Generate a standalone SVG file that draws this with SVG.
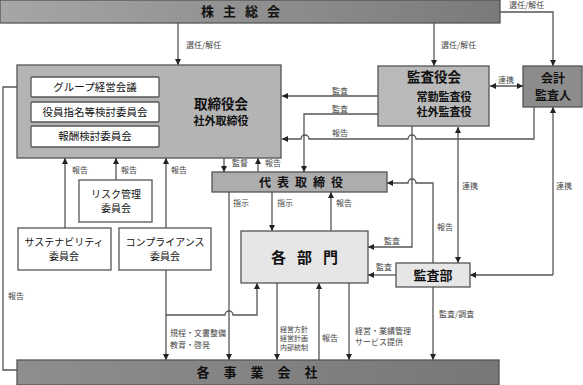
<svg xmlns="http://www.w3.org/2000/svg" width="583" height="385" viewBox="0 0 583 385">
<style>
text{font-family:"Noto Sans CJK JP","Noto Sans",sans-serif;}
.ln{fill:none;stroke:#555;stroke-width:1.3;}
.arr{marker-end:url(#ah);}
.lbl{font-size:8px;fill:#444;}
.sm{font-size:7px;}
.box{stroke:#555;stroke-width:1.3;}
.w{fill:#fff;}
.t11{font-size:10.5px;fill:#111;text-anchor:middle;}
.t10{font-size:10px;fill:#111;text-anchor:middle;}
.tb{font-weight:bold;fill:#111;text-anchor:middle;}
</style>
<defs>
<marker id="ah" viewBox="0 0 8 8" refX="8" refY="4" markerWidth="6" markerHeight="6" markerUnits="userSpaceOnUse" orient="auto-start-reverse">
<path d="M0,0 L8,4 L0,8 z" fill="#222"/>
</marker>
<linearGradient id="bar" x1="0" y1="0" x2="1" y2="0">
<stop offset="0" stop-color="#a6a6a6"/>
<stop offset="1" stop-color="#7a7a7a"/>
</linearGradient>
<linearGradient id="bar2" x1="0" y1="0" x2="1" y2="0">
<stop offset="0" stop-color="#8e8e8e"/>
<stop offset="1" stop-color="#777"/>
</linearGradient>
</defs>
<rect width="583" height="385" fill="#fff"/>

<g id="connectors">
<path class="ln arr" d="M178,23 V65"/>
<path class="ln arr" d="M434,23 V66"/>
<path class="ln arr" d="M500,12 H553 V66"/>
<path class="ln arr" d="M490,86 H523" style="marker-start:url(#ah)"/>
<path class="ln arr" d="M378,96 H282"/>
<path class="ln arr" d="M378,114 H304 V172"/>
<path class="ln arr" d="M534,107 V139 H416 A4,4 0 0 0 408,139 H309 A4,4 0 0 0 301,139 H282"/>
<path class="ln arr" d="M17,370 H3 V87 H31"/>
<path class="ln arr" d="M65,228 V158"/>
<path class="ln arr" d="M116,180 V158"/>
<path class="ln arr" d="M166,228 V158"/>
<path class="ln arr" d="M224,158 V172"/>
<path class="ln arr" d="M258,172 V158"/>
<path class="ln arr" d="M229,192 V360"/>
<path class="ln arr" d="M272,192 V231"/>
<path class="ln arr" d="M331,231 V192"/>
<path class="ln arr" d="M412,126 V247 H368"/>
<path class="ln arr" d="M433,263 V183 H416 A4,4 0 0 0 408,183 H387"/>
<path class="ln arr" d="M458,127 V263" style="marker-start:url(#ah)"/>
<path class="ln arr" d="M553,275 V107"/>
<path class="ln arr" d="M553,275 H470"/>
<path class="ln arr" d="M396,275 H368"/>
<path class="ln arr" d="M433,287 V360"/>
<path class="ln arr" d="M166,270 V360"/>
<path class="ln arr" d="M166,315 H225 A4,4 0 0 1 233,315 H257 V283"/>
<path class="ln arr" d="M277,283 V360"/>
<path class="ln arr" d="M319,360 V283"/>
<path class="ln arr" d="M349,283 V360"/>
</g>

<g id="labels">
<text class="lbl" x="186" y="48">選任/解任</text>
<text class="lbl" x="441" y="48">選任/解任</text>
<text class="lbl" x="509" y="8">選任/解任</text>
<text class="lbl" x="498" y="83">連携</text>
<text class="lbl" x="332" y="94">監査</text>
<text class="lbl" x="332" y="112">監査</text>
<text class="lbl" x="332" y="136">報告</text>
<text class="lbl" x="72" y="173">報告</text>
<text class="lbl" x="121" y="173">報告</text>
<text class="lbl" x="171" y="173">報告</text>
<text class="lbl" x="232" y="166">監督</text>
<text class="lbl" x="265" y="166">報告</text>
<text class="lbl" x="233" y="206">指示</text>
<text class="lbl" x="277" y="206">指示</text>
<text class="lbl" x="336" y="206">報告</text>
<text class="lbl" x="384" y="244">監査</text>
<text class="lbl" x="376" y="270">監査</text>
<text class="lbl" x="437" y="230">報告</text>
<text class="lbl" x="462" y="189">連携</text>
<text class="lbl" x="556" y="189">連携</text>
<text class="lbl" x="439" y="317">監査/調査</text>
<text class="lbl" x="355" y="334">経営・業績管理<tspan x="355" dy="11">サービス提供</tspan></text>
<text class="lbl" x="322" y="341">報告</text>
<text class="lbl sm" x="280" y="332">経営方針<tspan x="280" dy="9">経営計画</tspan><tspan x="280" dy="9">内部統制</tspan></text>
<text class="lbl" x="170" y="336">規程・文書整備<tspan x="170" dy="11.5">教育・啓発</tspan></text>
<text class="lbl" x="8" y="299">報告</text>
</g>

<g id="shareholders">
<rect class="box" x="0" y="0" width="500" height="23" fill="url(#bar)"/>
<text class="tb" x="245" y="16" font-size="13" letter-spacing="9">株主総会</text>
</g>

<g id="board">
<rect class="box" x="17" y="65" width="264" height="93" fill="#b4b4b4"/>
<text class="tb" x="221" y="109" font-size="13.5">取締役会</text>
<text class="tb" x="221" y="125" font-size="11">社外取締役</text>
</g>
<g id="group-mgmt">
<rect class="box w" x="31" y="77" width="128" height="20" rx="1"/>
<text class="t11" x="95" y="91">グループ経営会議</text>
</g>
<g id="nomination">
<rect class="box w" x="31" y="102" width="128" height="20" rx="1"/>
<text class="t11" x="95" y="116">役員指名等検討委員会</text>
</g>
<g id="compensation">
<rect class="box w" x="31" y="126" width="128" height="21" rx="1"/>
<text class="t11" x="95" y="140">報酬検討委員会</text>
</g>

<g id="audit-board">
<rect class="box" x="378" y="66" width="111" height="60" fill="#b9b9b9"/>
<text class="tb" x="434" y="82" font-size="13.5">監査役会</text>
<text class="tb" x="444" y="101" font-size="11">常勤監査役<tspan x="444" dy="14.5">社外監査役</tspan></text>
</g>

<g id="accounting-auditor">
<rect class="box" x="523" y="66" width="59" height="41" fill="#8c8c8c"/>
<text class="tb" x="553" y="82.5" font-size="12">会計<tspan x="553" dy="17.5">監査人</tspan></text>
</g>

<g id="risk">
<rect class="box w" x="79" y="180" width="73" height="42"/>
<text class="t10" x="116" y="197.5">リスク管理<tspan x="116" dy="14">委員会</tspan></text>
</g>
<g id="sustainability">
<rect class="box w" x="18" y="228" width="93" height="42"/>
<text class="t10" x="64" y="246">サステナビリティ<tspan x="64" dy="14">委員会</tspan></text>
</g>
<g id="compliance">
<rect class="box w" x="119" y="228" width="92" height="42"/>
<text class="t10" x="165" y="246">コンプライアンス<tspan x="165" dy="14">委員会</tspan></text>
</g>

<g id="rep-director">
<rect class="box" x="212" y="172" width="175" height="20" fill="#adadad"/>
<text class="tb" x="304" y="186.5" font-size="12" letter-spacing="6">代表取締役</text>
</g>

<g id="departments">
<rect class="box" x="241" y="231" width="127" height="52" fill="#e6e6e6"/>
<text class="tb" x="310" y="263" font-size="15" letter-spacing="11">各部門</text>
</g>

<g id="audit-dept">
<rect class="box" x="396" y="263" width="74" height="24" fill="#e6e6e6"/>
<text class="tb" x="433" y="280" font-size="13">監査部</text>
</g>

<g id="companies">
<rect class="box" x="17" y="360" width="482" height="25" fill="url(#bar2)"/>
<text class="tb" x="264" y="377" font-size="13" letter-spacing="14">各事業会社</text>
</g>
</svg>
